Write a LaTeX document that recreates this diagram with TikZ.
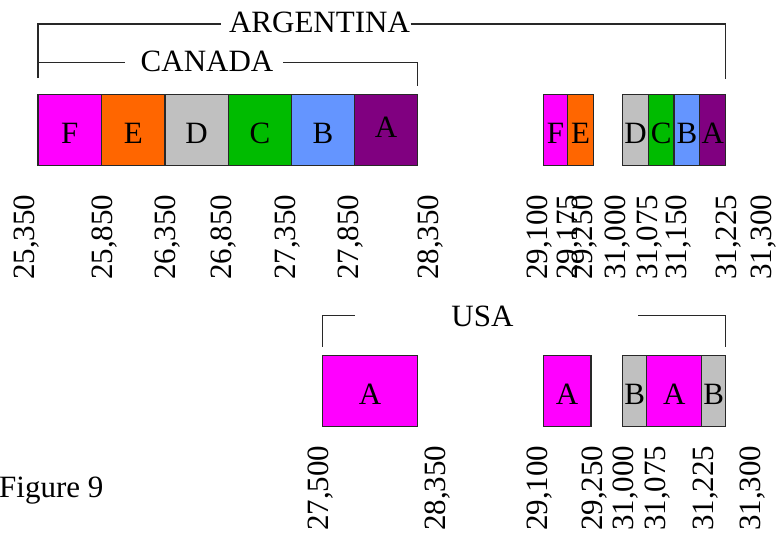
\documentclass[tikz,border=0pt]{standalone}
\usepackage{fontspec}
\setmainfont{Liberation Serif}
\definecolor{cF}{RGB}{255,0,255}
\definecolor{cE}{RGB}{255,102,0}
\definecolor{cD}{RGB}{192,192,192}
\definecolor{cC}{RGB}{0,187,0}
\definecolor{cB}{RGB}{100,149,255}
\definecolor{cA}{RGB}{128,0,128}
\definecolor{edge}{RGB}{40,40,40}
\tikzset{
  cell/.style={draw=edge, line width=1.2pt, anchor=north west, inner sep=0pt, outer sep=0pt,
    text height=26pt, text depth=0pt, font=\fontsize{31}{36}\selectfont},
  brk/.style={draw=edge, line width=1.2pt},
  ttl/.style={anchor=base, inner sep=0pt, font=\fontsize{31}{36}\selectfont},
  lab/.style={rotate=90, anchor=base west, inner sep=0pt, font=\fontsize{31}{36}\selectfont},
}
\begin{document}
\begin{tikzpicture}[x=1pt,y=-1pt]
\useasboundingbox (0,0) rectangle (778,539);
% ---------- top row, left group ----------
\node[cell, fill=cF, minimum width=63.4pt, minimum height=71.4pt] (tF) at (38,94.3) {F};
\node[cell, fill=cE, minimum width=63.3pt, minimum height=71.4pt] (tE) at (101.7,94.3) {E};
\node[cell, fill=cD, minimum width=63.3pt, minimum height=71.4pt] (tD) at (165,94.3) {D};
\node[cell, fill=cC, minimum width=63.4pt, minimum height=71.4pt] (tC) at (228.3,94.3) {C};
\node[cell, fill=cB, minimum width=62.6pt, minimum height=71.4pt] (tB) at (291.7,94.3) {B};
\node[cell, fill=cA, minimum width=63.4pt, minimum height=71.4pt, text height=20.5pt, text depth=6pt] (tA) at (354.3,94.3) {A};
% ---------- top row, right group ----------
\node[cell, fill=cF, minimum width=24.4pt, minimum height=71.4pt] (rF) at (543.3,94.3) {F};
\node[cell, fill=cE, minimum width=25.6pt, minimum height=71.4pt] (rE) at (567.7,94.3) {E};
\node[cell, fill=cD, minimum width=25.6pt, minimum height=71.4pt] (rD) at (622.7,94.3) {D};
\node[cell, fill=cC, minimum width=25.7pt, minimum height=71.4pt] (rC) at (648.3,94.3) {C};
\node[cell, fill=cB, minimum width=25.7pt, minimum height=71.4pt] (rB) at (674,94.3) {B};
\node[cell, fill=cA, minimum width=26pt, minimum height=71.4pt] (rA) at (699.7,94.3) {A};
% ---------- bottom row ----------
\node[cell, fill=cF, minimum width=95.4pt, minimum height=71pt] (uA1) at (322.3,355.7) {A};
\node[cell, fill=cF, minimum width=47.7pt, minimum height=71pt] (uA2) at (543.3,355.7) {A};
\node[cell, fill=cD, minimum width=24pt, minimum height=71pt] (uB1) at (622.7,355.7) {B};
\node[cell, fill=cF, minimum width=55pt, minimum height=71pt] (uA3) at (646.7,355.7) {A};
\node[cell, fill=cD, minimum width=24pt, minimum height=71pt] (uB2) at (701.7,355.7) {B};
% ---------- brackets ----------
\coordinate (argL) at (38,78);
\coordinate (argTL) at (38,24);
\coordinate (argM1) at (221,24);
\coordinate (argM2) at (410.7,24);
\coordinate (argTR) at (725.7,24);
\coordinate (argR) at (725.7,78.7);
\draw[brk] (argL) -- (argTL) -- (argM1);
\draw[brk] (argM2) -- (argTR) -- (argR);
\node[ttl] (arg) at (319.5,32.3) {ARGENTINA};
\coordinate (canL) at (38,62.3);
\coordinate (canM1) at (125,62.3);
\coordinate (canM2) at (283,62.3);
\coordinate (canTR) at (417.7,62.3);
\coordinate (canR) at (417.7,86);
\draw[brk] (canL) -- (canM1);
\draw[brk] (canM2) -- (canTR) -- (canR);
\node[ttl] (can) at (207,71) {CANADA};
\coordinate (usaL) at (322.3,346.7);
\coordinate (usaTL) at (322.3,315.7);
\coordinate (usaM1) at (355,315.7);
\coordinate (usaM2) at (638.3,315.7);
\coordinate (usaTR) at (725.7,315.7);
\coordinate (usaR) at (725.7,346.7);
\draw[brk] (usaL) -- (usaTL) -- (usaM1);
\draw[brk] (usaM2) -- (usaTR) -- (usaR);
\node[ttl] (usa) at (482.5,326.7) {USA};
% ---------- top row labels ----------
\node[lab] (l1) at (34,280) {25,350};
\node[lab] (l2) at (112,280) {25,850};
\node[lab] (l3) at (175,280) {26,350};
\node[lab] (l4) at (231,280) {26,850};
\node[lab] (l5) at (295,280) {27,350};
\node[lab] (l6) at (358,280) {27,850};
\node[lab] (l7) at (438,280) {28,350};
\node[lab] (l8) at (547,280) {29,100};
\node[lab] (l9) at (577,280) {29,175};
\node[lab] (l10) at (592,280) {29,250};
\node[lab] (l11) at (625,280) {31,000};
\node[lab] (l12) at (657,280) {31,075};
\node[lab] (l13) at (686,280) {31,150};
\node[lab] (l14) at (736,280) {31,225};
\node[lab] (l15) at (771,280) {31,300};
% ---------- bottom row labels ----------
\node[lab] (m1) at (328,531) {27,500};
\node[lab] (m2) at (445,531) {28,350};
\node[lab] (m3) at (547,531) {29,100};
\node[lab] (m4) at (602,531) {29,250};
\node[lab] (m5) at (633,531) {31,000};
\node[lab] (m6) at (665,531) {31,075};
\node[lab] (m7) at (713,531) {31,225};
\node[lab] (m8) at (760,531) {31,300};
% ---------- caption ----------
\node[anchor=base west, inner sep=0pt, font=\fontsize{31}{36}\selectfont] (fig) at (-1,497) {Figure 9};
\end{tikzpicture}
\end{document}
